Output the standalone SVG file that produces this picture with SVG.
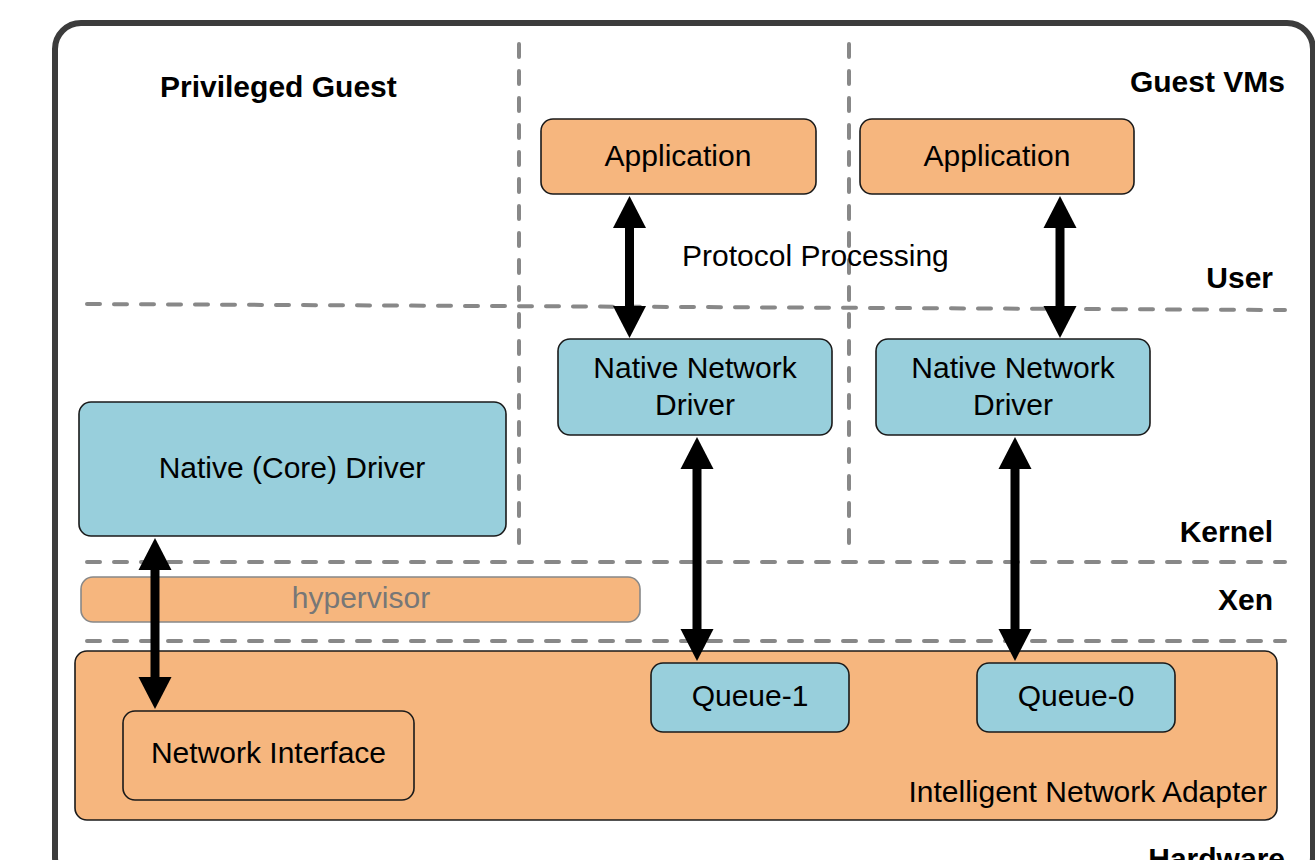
<svg xmlns="http://www.w3.org/2000/svg" width="1315" height="860" viewBox="0 0 1315 860">
<style>
text{font-family:"Liberation Sans",Arial,sans-serif;font-size:30px;fill:#000}
.b{font-weight:bold}
.m{text-anchor:middle}
.e{text-anchor:end}
.org{fill:#F6B67E;stroke:#1a1a1a;stroke-width:1.6}
.blu{fill:#98CFDC;stroke:#1a1a1a;stroke-width:1.6}
.dash{stroke:#888;stroke-width:4;stroke-dasharray:13 14;stroke-linecap:round;fill:none}
.arr{stroke:#000;stroke-width:9;marker-start:url(#ah);marker-end:url(#ah)}
</style>
<defs>
<marker id="ah" markerUnits="userSpaceOnUse" viewBox="0 -17 32 34" markerWidth="32" markerHeight="34" refX="1" refY="0" orient="auto-start-reverse">
<path d="M0,-16.5 L32,0 L0,16.5 z" fill="#000"/>
</marker>
</defs>
<rect x="0" y="0" width="1315" height="860" fill="#fff"/>
<rect id="frame" x="55" y="23" width="1258" height="860" rx="26" fill="none" stroke="#3c3c3c" stroke-width="6"/>

<g id="separators">
<line class="dash" x1="87" y1="304" x2="1285" y2="310"/>
<line class="dash" x1="87" y1="562" x2="1285" y2="562"/>
<line class="dash" x1="87" y1="641" x2="1285" y2="641"/>
<line class="dash" x1="519" y1="44" x2="519" y2="553"/>
<line class="dash" x1="849" y1="44" x2="849" y2="553"/>
</g>

<g id="labels">
<text class="b" x="160" y="97">Privileged Guest</text>
<text class="b e" x="1285" y="92">Guest VMs</text>
<text class="b e" x="1273" y="288">User</text>
<text class="b e" x="1273" y="542">Kernel</text>
<text class="b e" x="1273" y="610">Xen</text>
<text class="b e" x="1285" y="869">Hardware</text>
<text x="682" y="266">Protocol Processing</text>
</g>

<g id="adapter">
<rect class="org" x="75" y="651" width="1202" height="169" rx="12"/>
<text class="e" x="1267" y="802">Intelligent Network Adapter</text>
</g>
<g id="hypervisor">
<rect x="81" y="577" width="559" height="45" rx="12" fill="#F6B67E" stroke="#888" stroke-width="1.6"/>
<text class="m" x="361" y="608" style="fill:#777">hypervisor</text>
</g>
<g id="app1">
<rect class="org" x="541" y="119" width="275" height="75" rx="12"/>
<text class="m" x="678" y="166">Application</text>
</g>
<g id="app2">
<rect class="org" x="860" y="119" width="274" height="75" rx="12"/>
<text class="m" x="997" y="166">Application</text>
</g>
<g id="nnd1">
<rect class="blu" x="558" y="339" width="274" height="96" rx="12"/>
<text class="m" x="695" y="378">Native Network</text>
<text class="m" x="695" y="415">Driver</text>
</g>
<g id="nnd2">
<rect class="blu" x="876" y="339" width="274" height="96" rx="12"/>
<text class="m" x="1013" y="378">Native Network</text>
<text class="m" x="1013" y="415">Driver</text>
</g>
<g id="core">
<rect class="blu" x="79" y="402" width="427" height="134" rx="12"/>
<text class="m" x="292" y="478">Native (Core) Driver</text>
</g>
<g id="netif">
<rect class="org" x="123" y="711" width="291" height="89" rx="12"/>
<text class="m" x="268.5" y="763">Network Interface</text>
</g>
<g id="queue1">
<rect class="blu" x="651" y="663" width="198" height="69" rx="12"/>
<text class="m" x="750" y="706">Queue-1</text>
</g>
<g id="queue0">
<rect class="blu" x="977" y="663" width="198" height="69" rx="12"/>
<text class="m" x="1076" y="706">Queue-0</text>
</g>

<g id="connectors">
<line class="arr" x1="629.5" y1="227" x2="629.5" y2="307"/>
<line class="arr" x1="1060" y1="227" x2="1060" y2="307"/>
<line class="arr" x1="697" y1="468" x2="697" y2="630"/>
<line class="arr" x1="1015" y1="468" x2="1015" y2="630"/>
<line class="arr" x1="155" y1="569" x2="155" y2="678"/>
</g>
</svg>
